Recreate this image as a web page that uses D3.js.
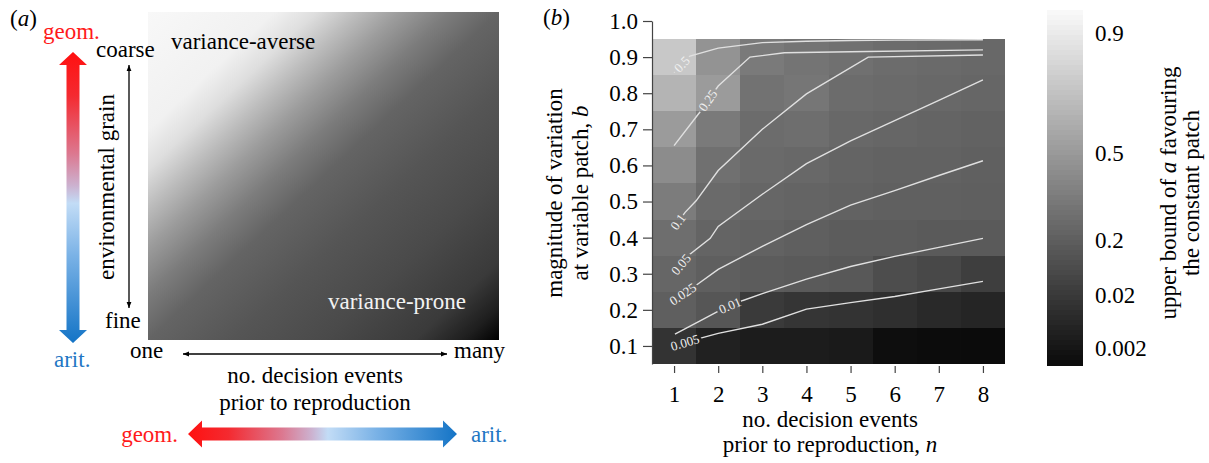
<!DOCTYPE html>
<html>
<head>
<meta charset="utf-8">
<script src="https://cdn.jsdelivr.net/npm/d3@7"></script>
<style>
  body { margin: 0; background: #fff; }
  svg { display: block; font-family: "Liberation Serif", "Times New Roman", serif; }
</style>
</head>
<body>
<svg id="chart" width="1209" height="463"></svg>
<script>
// --- data ---
const nValues = [1, 2, 3, 4, 5, 6, 7, 8];
const bValues = [0.9, 0.8, 0.7, 0.6, 0.5, 0.4, 0.3, 0.2, 0.1];
// upper bound of a favouring the constant patch, rows follow bValues, columns follow nValues
const upperBound = [
  [0.73, 0.47, 0.34, 0.31, 0.29, 0.27, 0.26, 0.25],
  [0.63, 0.51, 0.30, 0.32, 0.27, 0.26, 0.25, 0.24],
  [0.51, 0.34, 0.27, 0.28, 0.25, 0.24, 0.23, 0.22],
  [0.43, 0.29, 0.26, 0.25, 0.23, 0.22, 0.22, 0.21],
  [0.35, 0.26, 0.24, 0.23, 0.22, 0.21, 0.21, 0.20],
  [0.28, 0.23, 0.22, 0.20, 0.19, 0.19, 0.18, 0.18],
  [0.24, 0.20, 0.19, 0.18, 0.17, 0.115, 0.09, 0.043],
  [0.20, 0.16, 0.023, 0.018, 0.017, 0.015, 0.012, 0.010],
  [0.017, 0.008, 0.0053, 0.0053, 0.0043, 0.0007, 0.0004, 0.0001]
];
const yTicks = [0.1, 0.2, 0.3, 0.4, 0.5, 0.6, 0.7, 0.8, 0.9, 1.0];
const cbarTicks = [0.002, 0.02, 0.2, 0.5, 0.9];

const contourLevels = ["0.5", "0.25", "0.1", "0.05", "0.025", "0.01", "0.005"];
const contour05 = [[1, 0.857], [1.36, 0.903], [2, 0.925], [3, 0.94], [4, 0.944], [5, 0.946], [6, 0.947], [8, 0.948]];
const contour025 = [[1, 0.655], [1.6, 0.75], [2, 0.82], [2.72, 0.90], [3.5, 0.912], [5, 0.915], [8, 0.92]];
const contour01 = [[0.98, 0.425], [1.25, 0.47], [1.5, 0.502], [2, 0.586], [3, 0.70], [4, 0.798], [5.4, 0.90], [8, 0.906]];
const contour005 = [[0.98, 0.30], [1.36, 0.354], [1.82, 0.398], [2, 0.431], [3, 0.52], [4, 0.605], [5, 0.668], [6, 0.724], [7, 0.78], [8, 0.837]];
const contour0025 = [[0.98, 0.225], [1.43, 0.262], [2, 0.312], [3, 0.376], [4, 0.436], [5, 0.49], [6, 0.53], [7, 0.572], [8, 0.613]];
const contour001 = [[1.02, 0.133], [1.6, 0.17], [2.09, 0.202], [2.45, 0.221], [3, 0.245], [4, 0.285], [5, 0.32], [6, 0.348], [7, 0.373], [8, 0.398]];
const contour0005 = [[1.0, 0.10], [1.52, 0.119], [2, 0.135], [3, 0.16], [4, 0.202], [5, 0.22], [6, 0.237], [7, 0.258], [8, 0.279]];
const contourLines = [contour05, contour025, contour01, contour005, contour0025, contour001, contour0005];
const labelN = [1.18, 1.77, 1.09, 1.16, 1.2, 2.27, 1.25];

// --- setup ---
const svg = d3.select("#chart");
const defs = svg.append("defs");
const FS = 23;
const red = "#ff1a1a", blue = "#1f77c4";

function label(g, x, y, txt, opts = {}) {
  const t = g.append("text")
    .attr("x", x).attr("y", y)
    .attr("font-size", opts.size || FS)
    .attr("text-anchor", opts.anchor || "start")
    .attr("fill", opts.fill || "#000");
  if (opts.rotate) t.attr("transform", `rotate(${opts.rotate},${x},${y})`);
  (Array.isArray(txt) ? txt : [[txt]]).forEach(([s, it]) => {
    t.append("tspan").text(s).attr("font-style", it ? "italic" : null);
  });
  return t;
}

// gradient for the geom./arit. arrows (runs along the arrow's own x axis)
const arrowGrad = defs.append("linearGradient").attr("id", "arrowGrad")
  .attr("x1", 0).attr("y1", 0).attr("x2", 1).attr("y2", 0);
[[0, "#ff1010"], [0.15, "#f42a30"], [0.35, "#dc7890"], [0.46, "#ccb2d0"], [0.52, "#c2dcf6"], [0.7, "#7ab2e6"], [1, "#1474c6"]]
  .forEach(([o, c]) => arrowGrad.append("stop").attr("offset", o).attr("stop-color", c));

// double arrow along the x axis of its own frame, from 0 to len
function doubleArrow(len, shaft, head, headLen) {
  return [[0, 0], [headLen, -head], [headLen, -shaft], [len - headLen, -shaft], [len - headLen, -head],
          [len, 0], [len - headLen, head], [len - headLen, shaft], [headLen, shaft], [headLen, head]];
}

defs.append("marker").attr("id", "tip")
  .attr("viewBox", "0 0 10 10").attr("refX", 10).attr("refY", 5)
  .attr("markerWidth", 6).attr("markerHeight", 6).attr("markerUnits", "userSpaceOnUse")
  .attr("orient", "auto-start-reverse")
  .append("path").attr("d", "M0,1 L10,5 L0,9 Z").attr("fill", "#000");

// --- PANEL (a) ---
const pa = svg.append("g");
const sq = { x0: 148, y0: 12, x1: 499, y1: 340 };
const sqGrad = defs.append("linearGradient").attr("id", "sqGrad")
  .attr("x1", 0).attr("y1", 0).attr("x2", 1).attr("y2", 1);
[[0, "#f8f8f8"], [0.18, "#f1f1f1"], [0.24, "#dedede"], [0.3, "#bcbcbc"], [0.36, "#9c9c9c"], [0.43, "#7c7c7c"],
 [0.5, "#646464"], [0.62, "#555555"], [0.75, "#4a4a4a"], [0.88, "#3a3a3a"], [0.95, "#1e1e1e"], [1, "#000000"]]
  .forEach(([o, c]) => sqGrad.append("stop").attr("offset", o).attr("stop-color", c));
pa.append("rect").attr("x", sq.x0).attr("y", sq.y0)
  .attr("width", sq.x1 - sq.x0).attr("height", sq.y1 - sq.y0).attr("fill", "url(#sqGrad)");

label(pa, 10, 26, [["("], ["a", true], [")"]]);
label(pa, 171, 49, "variance-averse");
label(pa, 328, 309, "variance-prone", { fill: "#f2f2f2" });

// vertical geom./arit. arrow
pa.append("polygon")
  .attr("points", doubleArrow(291, 6.5, 14, 13).map(p => p.join(",")).join(" "))
  .attr("transform", "translate(73,52) rotate(90)")
  .attr("fill", "url(#arrowGrad)");
label(pa, 43, 39, "geom.", { fill: red });
label(pa, 54, 367, "arit.", { fill: blue });

// environmental grain
pa.append("line").attr("x1", 129).attr("x2", 129).attr("y1", 308).attr("y2", 65)
  .attr("stroke", "#000").attr("stroke-width", 1.3)
  .attr("marker-start", "url(#tip)").attr("marker-end", "url(#tip)");
label(pa, 96, 57, "coarse");
label(pa, 105, 328, "fine");
label(pa, 114, 187, "environmental grain", { anchor: "middle", rotate: -90 });

// decision events
pa.append("line").attr("x1", 183).attr("x2", 447).attr("y1", 354).attr("y2", 354)
  .attr("stroke", "#000").attr("stroke-width", 1.3)
  .attr("marker-start", "url(#tip)").attr("marker-end", "url(#tip)");
label(pa, 130, 358, "one");
label(pa, 454, 358, "many");
label(pa, 315, 383, "no. decision events", { anchor: "middle" });
label(pa, 315, 410, "prior to reproduction", { anchor: "middle" });

pa.append("polygon")
  .attr("points", doubleArrow(269, 6.5, 13.5, 14).map(p => p.join(",")).join(" "))
  .attr("transform", "translate(188,434)")
  .attr("fill", "url(#arrowGrad)");
label(pa, 178, 442, "geom.", { anchor: "end", fill: red });
label(pa, 471, 442, "arit.", { fill: blue });

// --- PANEL (b) ---
const pb = svg.append("g");
const x = d3.scaleLinear().domain([0.5, 8.5]).range([652, 1005]);
const y = d3.scaleLinear().domain([0.05, 1.0]).range([364, 21]);
// colour bar position scale (value -> pixel) and grey ramp along the bar
const cbar = d3.scaleLinear().domain([0, 0.002, 0.02, 0.2, 0.5, 0.9, 1]).range([365, 348, 295, 240, 153, 33, 10]);
const grey = d3.scaleLinear().domain([365, 10]).range([10, 250]).clamp(true);
const colour = v => { const g = Math.round(grey(cbar(v))); return d3.rgb(g, g, g); };

label(pb, 543, 25, [["("], ["b", true], [")"]]);

const cells = [];
bValues.forEach((b, i) => nValues.forEach((n, j) => cells.push({ n, b, v: upperBound[i][j] })));
pb.append("g").selectAll("rect").data(cells).join("rect")
  .attr("x", d => x(d.n - 0.5))
  .attr("y", d => y(d.b + 0.05))
  .attr("width", d => x(d.n + 0.5) - x(d.n - 0.5))
  .attr("height", d => y(d.b - 0.05) - y(d.b + 0.05))
  .attr("fill", d => colour(d.v))
  .attr("shape-rendering", "crispEdges");

// contour labels: place on the line, rotate with the local segment
function pointAt(line, n) {
  let k = 0;
  while (k < line.length - 2 && line[k + 1][0] < n) k++;
  const [a, c] = [line[k], line[k + 1]];
  const t = (n - a[0]) / (c[0] - a[0]);
  const px = x(n), py = y(a[1] + t * (c[1] - a[1]));
  const ang = Math.atan2(y(c[1]) - y(a[1]), x(c[0]) - x(a[0])) * 180 / Math.PI;
  return { px, py, ang };
}
const labelPos = contourLines.map((line, i) => ({ ...pointAt(line, labelN[i]), txt: contourLevels[i] }));
const LFS = 13;

const mask = defs.append("mask").attr("id", "lblMask").attr("maskUnits", "userSpaceOnUse")
  .attr("x", 0).attr("y", 0).attr("width", 1209).attr("height", 463);
mask.append("rect").attr("width", 1209).attr("height", 463).attr("fill", "#fff");
mask.selectAll("text").data(labelPos).join("text")
  .attr("transform", d => `translate(${d.px},${d.py}) rotate(${d.ang})`)
  .attr("text-anchor", "middle").attr("dy", "0.33em").attr("font-size", LFS)
  .attr("fill", "#000").attr("stroke", "#000").attr("stroke-width", 6)
  .text(d => d.txt);

const lineGen = d3.line().x(d => x(d[0])).y(d => y(d[1]));
pb.append("g").attr("mask", "url(#lblMask)")
  .selectAll("path").data(contourLines).join("path")
  .attr("d", lineGen).attr("fill", "none")
  .attr("stroke", "#e0e0e0").attr("stroke-width", 1.4);

pb.append("g").selectAll("text").data(labelPos).join("text")
  .attr("transform", d => `translate(${d.px},${d.py}) rotate(${d.ang})`)
  .attr("text-anchor", "middle").attr("dy", "0.33em").attr("font-size", LFS)
  .attr("fill", "#f0f0f0")
  .text(d => d.txt);

// axes
const yAxis = pb.append("g").attr("transform", "translate(652,0)")
  .call(d3.axisLeft(y).tickValues(yTicks).tickFormat(d3.format(".1f"))
    .tickSize(9).tickSizeOuter(0).tickPadding(5));
const xAxis = pb.append("g").attr("transform", "translate(0,366)")
  .call(d3.axisBottom(x).tickValues(nValues).tickSize(7).tickPadding(13));
xAxis.select(".domain").remove();
[yAxis, xAxis].forEach(a => {
  a.attr("font-family", null).attr("font-size", FS);
  a.selectAll("line, path").attr("stroke", "#444").attr("stroke-width", 1.2);
  a.selectAll("text").attr("fill", "#000");
});

label(pb, 830, 427, "no. decision events", { anchor: "middle" });
label(pb, 830, 452, [["prior to reproduction, "], ["n", true]], { anchor: "middle" });
label(pb, 562, 193, "magnitude of variation", { anchor: "middle", rotate: -90 });
label(pb, 588, 193, [["at variable patch, "], ["b", true]], { anchor: "middle", rotate: -90 });

// colour bar
const cb = pb.append("g");
const cbX0 = 1047, cbX1 = 1083;
const bands = d3.range(cbar.range()[6], cbar.range()[0], 5);
cb.selectAll("rect").data(bands).join("rect")
  .attr("x", cbX0).attr("width", cbX1 - cbX0)
  .attr("y", d => d).attr("height", d => Math.min(5, cbar.range()[0] - d) + 0.5)
  .attr("fill", d => { const g = Math.round(grey(d + 2.5)); return d3.rgb(g, g, g); })
  .attr("shape-rendering", "crispEdges");
const cAxis = cb.append("g").attr("transform", `translate(${cbX1},0)`)
  .call(d3.axisRight(cbar).tickValues(cbarTicks).tickFormat(d => String(d)).tickSize(0).tickPadding(12));
cAxis.select(".domain").remove();
cAxis.attr("font-family", null).attr("font-size", FS);
cAxis.selectAll("text").attr("fill", "#000");

label(cb, 1176, 193, [["upper bound of "], ["a", true], [" favouring"]], { anchor: "middle", rotate: -90 });
label(cb, 1199, 193, "the constant patch", { anchor: "middle", rotate: -90 });
</script>
</body>
</html>
